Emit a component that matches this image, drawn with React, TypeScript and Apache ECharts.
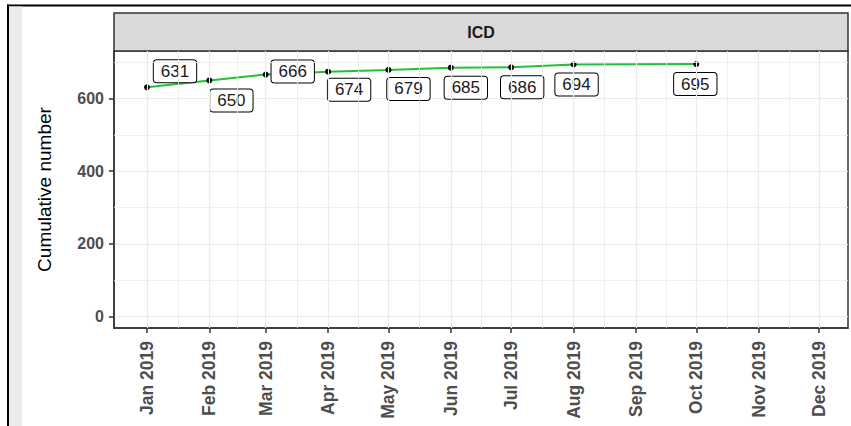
import React, { useEffect, useRef } from "react";
import * as echarts from "echarts";

// ---- data ----
const tickMonths = ["2019-01", "2019-02", "2019-03", "2019-04", "2019-05", "2019-06", "2019-07", "2019-08", "2019-09", "2019-10", "2019-11", "2019-12"];
const tickLabels = ["Jan 2019", "Feb 2019", "Mar 2019", "Apr 2019", "May 2019", "Jun 2019", "Jul 2019", "Aug 2019", "Sep 2019", "Oct 2019", "Nov 2019", "Dec 2019"];
const pointMonths = ["2019-01", "2019-02", "2019-03", "2019-04", "2019-05", "2019-06", "2019-07", "2019-08", "2019-10"];
const cumulative = [631, 650, 666, 674, 679, 685, 686, 694, 695];
const yTicks = [0, 200, 400, 600];
const yMinorTicks = [100, 300, 500, 700];
const facetTitle = "ICD";
const yTitle = "Cumulative number";

// label placement (repel-like offsets in px, layout only)
const labelOffsets: [number, number][] = [
  [28, -16], [22, 20], [27, -3], [21, 18], [20, 19], [15, 20], [11, 20], [3, 20], [-1, 20],
];

const DAY = 86400000;
const toTime = (ym: string) => {
  const [y, m] = ym.split("-").map(Number);
  return Date.UTC(y, m - 1, 1);
};

export default function App() {
  const ref = useRef<HTMLDivElement>(null);
  useEffect(() => {
    if (!ref.current) return;
    const chart = echarts.init(ref.current, null, { renderer: "svg" });
    const tickTimes = tickMonths.map(toTime);
    const minorTimes = tickTimes.slice(1).map((t, i) => (t + tickTimes[i]) / 2);
    const pts = pointMonths.map((m, i) => [toTime(m), cumulative[i]]);
    const font = "Liberation Sans, Arial, sans-serif";

    chart.setOption({
      animation: false,
      grid: {
        left: 114,
        right: 3,
        top: 51,
        bottom: 98,
        show: true,
        borderColor: "#333",
        borderWidth: 1.5,
        backgroundColor: "#fff",
      },
      xAxis: {
        type: "value",
        min: tickTimes[0] - 16.4 * DAY,
        max: tickTimes[11] + 14.4 * DAY,
        splitLine: { show: false },
        axisLine: { show: true, onZero: false, lineStyle: { color: "#333", width: 1.5 } },
        axisTick: { show: true, customValues: tickTimes, length: 5, lineStyle: { color: "#333", width: 1.5 } },
        axisLabel: {
          customValues: tickTimes,
          rotate: 90,
          margin: 13,
          fontFamily: font,
          fontWeight: "bold",
          fontSize: 17.5,
          color: "#4d4d4d",
          formatter: (v: number) => {
            let best = 0;
            for (let i = 0; i < tickTimes.length; i++) {
              if (Math.abs(tickTimes[i] - v) < Math.abs(tickTimes[best] - v)) best = i;
            }
            return tickLabels[best];
          },
        },
      },
      yAxis: {
        type: "value",
        min: -32,
        max: 731,
        minInterval: 200,
        maxInterval: 200,
        name: yTitle,
        nameLocation: "middle",
        nameGap: 60,
        nameTextStyle: { fontFamily: font, fontSize: 19, color: "#000" },
        splitLine: { show: true, lineStyle: { color: "#ebebeb", width: 1.2 } },
        axisLine: { show: true, onZero: false, lineStyle: { color: "#333", width: 1.5 } },
        axisTick: { show: true, customValues: yTicks, length: 5, lineStyle: { color: "#333", width: 1.5 } },
        axisLabel: {
          customValues: yTicks,
          margin: 10,
          fontFamily: font,
          fontWeight: "bold",
          fontSize: 16,
          color: "#4d4d4d",
        },
      },
      graphic: [
        { type: "rect", shape: { x: 7, y: 4.5, width: 844, height: 2 }, style: { fill: "#000" }, silent: true },
        { type: "rect", shape: { x: 7, y: 4.5, width: 2, height: 422 }, style: { fill: "#000" }, silent: true },
        { type: "rect", shape: { x: 9, y: 6.5, width: 13, height: 420 }, style: { fill: "#ebebeb" }, silent: true },
        {
          type: "rect",
          shape: { x: 114, y: 13, width: 734, height: 38 },
          style: { fill: "#d9d9d9", stroke: "#333", lineWidth: 1.5 },
          silent: true,
        },
        {
          type: "text",
          x: 481,
          y: 32,
          style: {
            text: facetTitle,
            fontFamily: font,
            fontWeight: "bold",
            fontSize: 16,
            fill: "#1a1a1a",
            align: "center",
            verticalAlign: "middle",
          },
          silent: true,
        },
      ],
      series: [
        {
          name: "grid",
          type: "line",
          data: pts,
          z: 1,
          silent: true,
          showSymbol: false,
          lineStyle: { opacity: 0 },
          markLine: {
            silent: true,
            symbol: "none",
            label: { show: false },
            animation: false,
            data: [
              ...tickTimes.map((t) => ({ xAxis: t, lineStyle: { color: "#ebebeb", width: 1.2, type: "solid" } })),
              ...minorTimes.map((t) => ({ xAxis: t, lineStyle: { color: "#ebebeb", width: 0.8, type: "solid" } })),
              ...yMinorTicks.map((v) => ({ yAxis: v, lineStyle: { color: "#ebebeb", width: 0.8, type: "solid" } })),
            ],
          },
        },
        {
          name: "ICD",
          type: "line",
          z: 3,
          data: pts,
          lineStyle: { color: "#22c236", width: 2 },
          itemStyle: { color: "#000" },
          symbol: "circle",
          symbolSize: 6,
          showAllSymbol: true,
          label: {
            show: true,
            position: "inside",
            formatter: (p: any) => String(p.value[1]),
            fontFamily: font,
            fontSize: 17,
            color: "#1a1a1a",
            backgroundColor: "#fff",
            borderColor: "#000",
            borderWidth: 1,
            borderRadius: 3,
            padding: [3, 7, 2, 7],
            align: "center",
            verticalAlign: "middle",
          },
          labelLayout: (params: any) => {
            const o = labelOffsets[params.dataIndex] || [0, 0];
            return { dx: o[0], dy: o[1], hideOverlap: false };
          },
        },
      ],
    });
    return () => chart.dispose();
  }, []);
  return (
    <div
      ref={ref}
      style={{ position: "fixed", left: 0, top: 0, width: 851, height: 426, background: "#fff" }}
    />
  );
}
